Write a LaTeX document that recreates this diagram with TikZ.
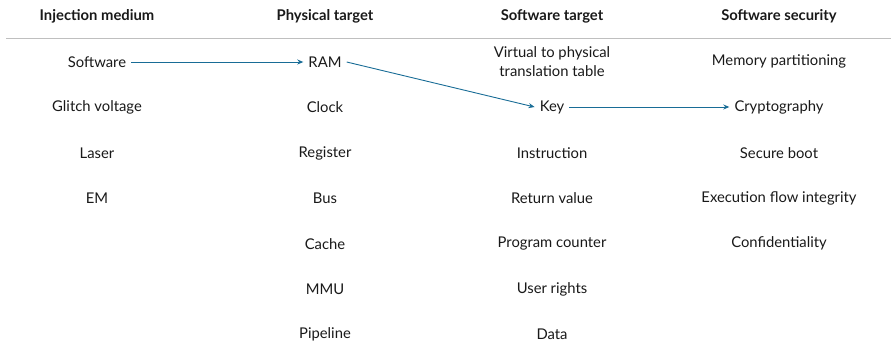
\documentclass[tikz,border=0pt]{standalone}
\usepackage{fontspec}
\setmainfont{Lato}
\usetikzlibrary{arrows.meta}
\definecolor{linkblue}{RGB}{24,108,150}
\begin{document}
\begin{tikzpicture}[x=1pt,y=-1pt,
  every node/.style={font=\fontsize{14.8}{19}\selectfont, text=black!90, inner sep=1pt, align=center},
  head/.style={font=\fontsize{14.8}{19}\selectfont\bfseries},
  link/.style={draw=linkblue, line width=0.9pt, -{Stealth[length=6pt,width=5pt]}}]
\useasboundingbox (0,0) rectangle (891,341);
% column headers and rule
\node[head] (h1) at (97,16) {Injection medium};
\node[head] (h2) at (325,16) {Physical target};
\node[head] (h3) at (552,16) {Software target};
\node[head] (h4) at (779,16) {Software security};
\draw[black!25, line width=0.8pt] (6,38) -- (891,38);
% injection medium
\node (im1) at (97,62) {Software};
\node (im2) at (97,107) {Glitch voltage};
\node (im3) at (97,153) {Laser};
\node (im4) at (97,198) {EM};
% physical target
\node (pt1) at (325,62) {RAM};
\node (pt2) at (325,107) {Clock};
\node (pt3) at (325,153) {Register};
\node (pt4) at (325,198) {Bus};
\node (pt5) at (325,244) {Cache};
\node (pt6) at (325,289) {MMU};
\node (pt7) at (325,334) {Pipeline};
% software target
\node (st1) at (552,62) {Virtual to physical\\translation table};
\node (st2) at (552,107) {Key};
\node (st3) at (552,153) {Instruction};
\node (st4) at (552,198) {Return value};
\node (st5) at (552,244) {Program counter};
\node (st6) at (552,289) {User rights};
\node (st7) at (552,334) {Data};
% software security
\node (ss1) at (779,61) {Memory partitioning};
\node (ss2) at (779,107) {Cryptography};
\node (ss3) at (779,153) {Secure boot};
\node (ss4) at (779,198) {Execution flow integrity};
\node (ss5) at (779,243) {Confidentiality};
% propagation path
\draw[link] ([xshift=4pt]im1.east) -- ([xshift=-4pt]pt1.west);
\draw[link] ([xshift=4pt]pt1.east) -- ([xshift=-4pt]st2.west);
\draw[link] ([xshift=4pt]st2.east) -- ([xshift=-4pt]ss2.west);
\end{tikzpicture}
\end{document}
